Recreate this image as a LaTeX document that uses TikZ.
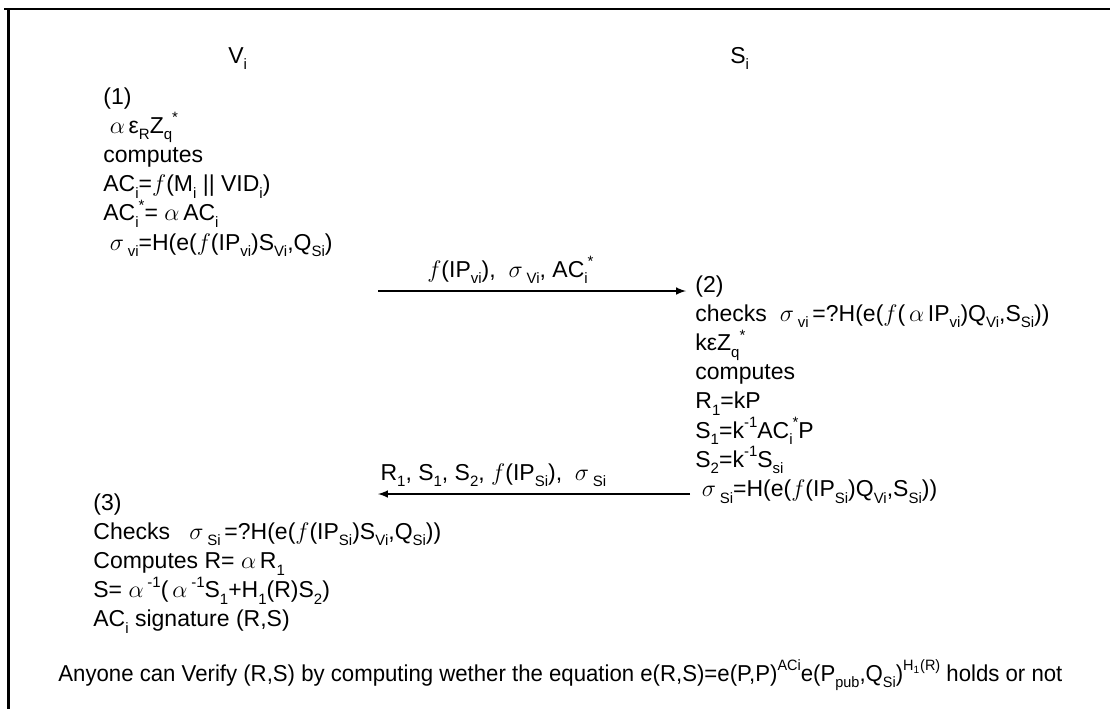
\documentclass[tikz,border=0pt]{standalone}
\usepackage{fontspec}
\setmainfont{Liberation Sans}
\usepackage{graphicx}
\usetikzlibrary{arrows.meta, positioning}
\tikzstyle{every node}=[font=\fontsize{11.5}{14.6}\selectfont, inner sep=0pt]
\tikzstyle{party}=[anchor=base west]
\tikzstyle{stage}=[anchor=north west, align=left]
\tikzstyle{msg}=[anchor=base, yshift=7pt]
\newcommand{\lo}[1]{\raisebox{-.55ex}{\fontsize{7.5}{8}\selectfont #1}}
\newcommand{\hi}[1]{\raisebox{.85ex}{\fontsize{7.5}{8}\selectfont #1}}
\newcommand{\al}{\ensuremath{\alpha}}
\newcommand{\sg}{\ensuremath{\sigma}}
\newcommand{\fn}{\ensuremath{f}}

\begin{document}
\begin{tikzpicture}[x=.5pt, y=-.5pt, >=latex]
    \useasboundingbox (0,0) rectangle (1110,709);
    \draw[line width=1.3pt] (4,9) -- (1110,9) (8.5,9) -- (8.5,709);
    % the two parties
    \node[party] (vhead) at (228,63) {V\lo{i}};
    \node[party] (shead) at (730,63) {S\lo{i}};
    % step 1 at V_i
    \node[stage] (v1) at (103,87) {(1)\\
        \ \al\,ε\lo{R}Z\lo{q}\hi{*}\\
        computes\\
        AC\lo{i}=\fn(M\lo{i} || VID\lo{i})\\
        AC\lo{i}\hi{*}= \al\,AC\lo{i}\\
        \ \sg\,\lo{vi}=H(e(\fn(IP\lo{vi})S\lo{Vi},Q\lo{Si})};
    % step 2 at S_i
    \node[stage] (s2) at (695,275) {(2)\\
        checks \ \sg\,\lo{vi}\,=?H(e(\fn(\,\al\,IP\lo{vi})Q\lo{Vi},S\lo{Si}))\\
        kεZ\lo{q}\hi{*}\\
        computes\\
        R\lo{1}=kP\\
        S\lo{1}=k\hi{-1}AC\lo{i}\hi{*}P\\
        S\lo{2}=k\hi{-1}S\lo{si}\\
        \ \sg\,\lo{Si}=H(e(\fn(IP\lo{Si})Q\lo{Vi},S\lo{Si}))};
    % step 3 back at V_i
    \node[stage] (v3) at (93,493) {(3)\\
        Checks \ \ \sg\,\lo{Si}\,=?H(e(\fn(IP\lo{Si})S\lo{Vi},Q\lo{Si}))\\
        Computes R= \al\,R\lo{1}\\
        S= \al\,\hi{-1}(\,\al\,\hi{-1}S\lo{1}+H\lo{1}(R)S\lo{2})\\
        AC\lo{i} signature (R,S)};
    \node[party] (verify) at (58,681) {\resizebox{502pt}{\height}{Anyone can Verify (R,S) by computing wether the equation e(R,S)=e(P,P)\hi{ACi}e(P\lo{pub},Q\lo{Si})\hi{H\textsubscript{1}(R)} holds or not}};
    % messages
    \coordinate (m1a) at (378,291);
    \coordinate (m1b) at (686,291);
    \coordinate (m2a) at (690,494);
    \coordinate (m2b) at (378,494);
    \draw[->, line width=.7pt] (m1a) -- node[msg, pos=.43] (lab1) {\fn(IP\lo{vi}), \ \sg\,\lo{Vi}, AC\lo{i}\hi{*}} (m1b);
    \draw[->, line width=.7pt] (m2a) -- node[msg, pos=.63] (lab2) {R\lo{1}, S\lo{1}, S\lo{2}, \fn(IP\lo{Si}), \ \sg\,\lo{Si}} (m2b);
\end{tikzpicture}
\end{document}
